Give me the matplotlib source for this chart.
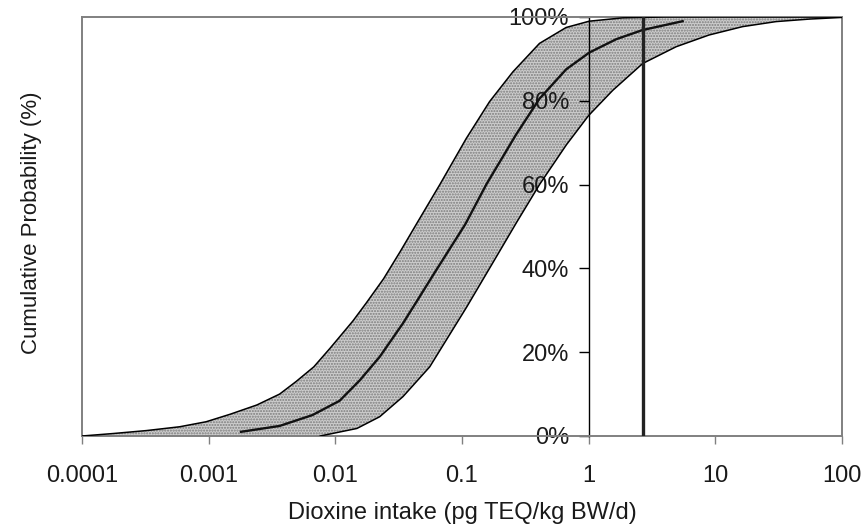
import matplotlib
matplotlib.use("Agg")
import matplotlib.pyplot as plt
from matplotlib.lines import Line2D

plt.rcParams['font.family'] = ['Liberation Sans', 'DejaVu Sans']

# Upper bound curve (intake in pg TEQ/kg BW/d, cumulative %)
upper_x = [0.0001, 0.000178, 0.000324, 0.000589, 0.000955, 0.00148, 0.0024,
           0.00363, 0.0049, 0.00676, 0.00912, 0.0138, 0.0176, 0.024, 0.0325,
           0.0453, 0.0671, 0.108, 0.165, 0.252, 0.409, 0.664, 1.01, 1.86,
           4.0, 100]
upper_y = [0.0, 0.6, 1.3, 2.2, 3.4, 5.2, 7.4, 10.0, 13.0, 16.5, 21.0, 27.5,
           31.8, 37.5, 44.0, 51.4, 60.1, 71.0, 79.8, 86.9, 93.7, 97.5, 99.0,
           99.8, 100, 100]

# Median curve
median_x = [0.0018, 0.00363, 0.0066, 0.0108, 0.0155, 0.0224, 0.0342, 0.0447,
            0.0594, 0.106, 0.156, 0.268, 0.409, 0.664, 1.01, 1.65, 2.67, 5.52]
median_y = [1.0, 2.4, 5.0, 8.4, 13.2, 18.9, 26.9, 32.5, 38.5, 50.5, 60.1, 72.0,
            80.5, 87.5, 91.5, 94.7, 96.9, 99.0]

# Lower bound curve
lower_x = [0.0076, 0.0148, 0.0224, 0.0342, 0.0556, 0.109, 0.2, 0.27, 0.411,
           0.667, 1.0, 1.55, 2.67, 4.9, 8.91, 16.4, 30.1, 55.0, 100]
lower_y = [0, 1.8, 4.6, 9.4, 16.5, 30.8, 44.3, 51.0, 60.1, 69.5, 76.5, 82.5,
           88.9, 92.9, 95.7, 97.7, 98.9, 99.5, 99.9]

# Reference value (vertical line)
ref_value = 2.7

xticks = [0.0001, 0.001, 0.01, 0.1, 1, 10, 100]
xtick_labels = ['0.0001', '0.001', '0.01', '0.1', '1', '10', '100']
yticks = [0, 20, 40, 60, 80, 100]
ytick_labels = ['0%', '20%', '40%', '60%', '80%', '100%']

fig = plt.figure(figsize=(8.68, 5.28), dpi=100)
ax = fig.add_axes([82 / 868, 92 / 528, 760 / 868, 419 / 528])

# shaded band between the bounds
poly_x = list(upper_x) + list(lower_x[::-1]) + [upper_x[0]]
poly_y = list(upper_y) + list(lower_y[::-1]) + [0]
ax.fill(poly_x, poly_y, facecolor='#cdcdcd', edgecolor='#7c7c7c', hatch='......',
        linewidth=0, zorder=1)

ax.plot(upper_x, upper_y, color='black', linewidth=1.1, zorder=3,
        solid_joinstyle='round')
ax.plot(lower_x, lower_y, color='black', linewidth=1.1, zorder=3,
        solid_joinstyle='round')
ax.plot(median_x, median_y, color='#111111', linewidth=1.7, zorder=3,
        solid_joinstyle='round')
ax.plot([ref_value, ref_value], [0, 100], color='#222222', linewidth=2.4, zorder=4)

ax.set_xscale('log')
ax.set_xlim(0.0001, 100)
ax.set_ylim(0, 100)
ax.set_xticks(xticks)
ax.set_xticklabels(xtick_labels)
ax.minorticks_off()
ax.set_yticks(yticks)
ax.set_yticklabels(ytick_labels)

# y axis drawn at x = 1, frame in grey
ax.spines['left'].set_position(('data', 1))
ax.spines['left'].set_color('black')
ax.spines['left'].set_linewidth(1.0)
for s in ['top', 'right', 'bottom']:
    ax.spines[s].set_color('#808080')
    ax.spines[s].set_linewidth(1.4)
ax.add_line(Line2D([0, 0], [0, 1], transform=ax.transAxes, color='#808080',
                   linewidth=1.4, clip_on=False))

ax.tick_params(axis='x', direction='out', length=6, width=1, color='#808080',
               pad=15, labelsize=17, labelcolor='#1a1a1a')
ax.tick_params(axis='y', direction='out', length=7, width=1, color='black',
               pad=7, labelsize=17, labelcolor='#1a1a1a')
for lab in ax.get_yticklabels():
    lab.set_zorder(5)

ax.set_xlabel('Dioxine intake (pg TEQ/kg BW/d)', fontsize=17, color='#1a1a1a',
              labelpad=11)
fig.text(0.036, (528 - 223) / 528, 'Cumulative Probability (%)', rotation=90,
         ha='center', va='center', fontsize=16, color='#1a1a1a')

fig.savefig('out.png', dpi=100)
